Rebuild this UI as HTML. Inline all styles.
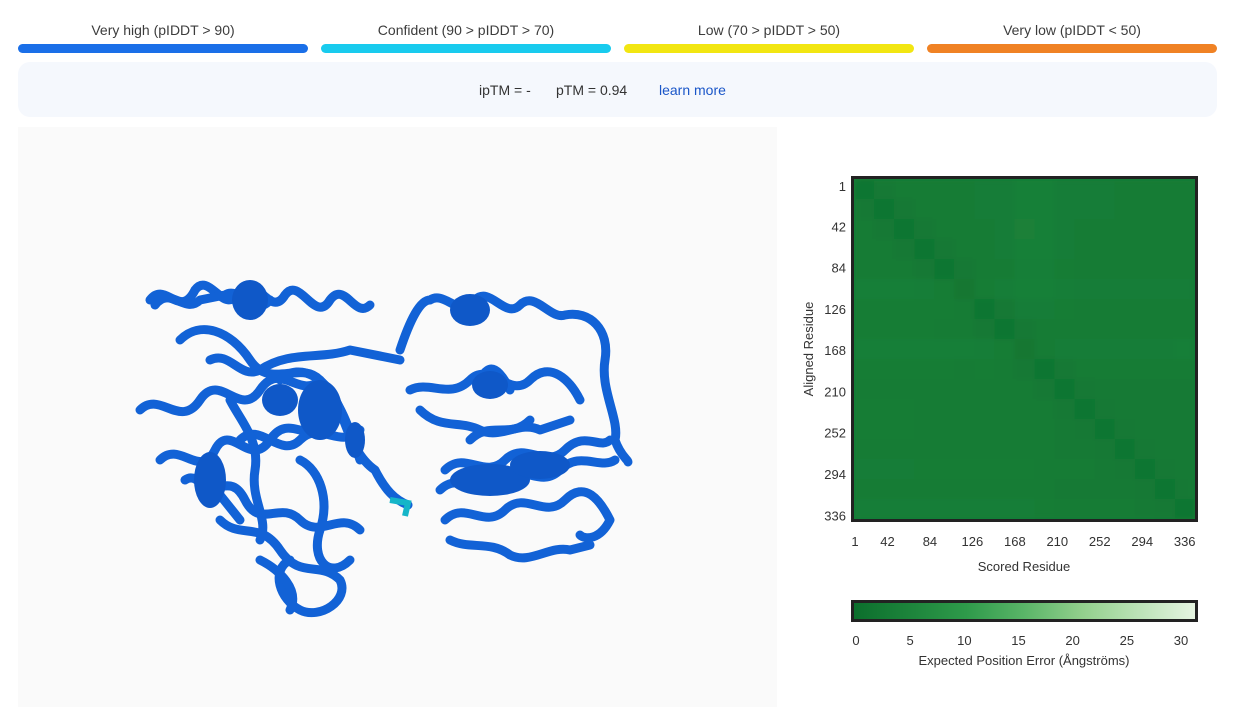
<!DOCTYPE html>
<html><head><meta charset="utf-8">
<style>
body{margin:0;width:1234px;height:707px;background:#fff;font-family:"Liberation Sans",sans-serif;overflow:hidden;position:relative;color:#333}
.lg{position:absolute;top:22px;width:290px;text-align:center;font-size:14px;color:#3c3c3c}
.bar{position:absolute;top:44px;height:9px;width:290px;border-radius:5px}
#info{position:absolute;left:18px;top:62px;width:1199px;height:55px;background:#f5f8fd;border-radius:12px;font-size:14px}
#viewer{position:absolute;left:18px;top:127px;width:759px;height:580px;background:#fafafa}
</style></head><body>
<div class="lg" style="left:18px">Very high (pIDDT &gt; 90)</div>
<div class="lg" style="left:321px">Confident (90 &gt; pIDDT &gt; 70)</div>
<div class="lg" style="left:624px">Low (70 &gt; pIDDT &gt; 50)</div>
<div class="lg" style="left:927px">Very low (pIDDT &lt; 50)</div>
<div class="bar" style="left:18px;background:#1a6fe8"></div>
<div class="bar" style="left:321px;background:#18cbee"></div>
<div class="bar" style="left:624px;background:#f2e612"></div>
<div class="bar" style="left:927px;background:#f08224"></div>
<div id="info">
 <span style="position:absolute;left:461px;top:20px">ipTM = -</span>
 <span style="position:absolute;left:538px;top:20px">pTM = 0.94</span>
 <span style="position:absolute;left:641px;top:20px;color:#1a56c8">learn more</span>
</div>
<div id="viewer">
<svg width="759" height="580">
<g fill="none" stroke="#1262d6" stroke-width="9" stroke-linejoin="round" stroke-linecap="round" transform="translate(-18,-127)">
<path d="M150 300 C165 280,180 320,195 290 C210 270,225 320,240 290 C255 270,270 320,285 295 C300 275,315 325,330 300 C345 280,355 320,370 305"/>
<path d="M155 305 C170 285,185 315,200 300 L225 295 C240 285,255 318,270 300"/>
<path d="M180 340 C200 320,230 330,250 360 C270 390,300 360,320 380 C340 400,350 430,360 460"/>
<path d="M140 410 C160 390,180 430,200 400 C220 370,240 420,260 390 C280 360,300 400,320 380"/>
<path d="M160 460 C180 440,200 480,215 450 C230 420,250 470,270 440 C290 410,310 450,330 420"/>
<path d="M200 480 C215 500,230 470,245 500 C260 530,280 500,300 520 C320 540,340 510,360 530"/>
<path d="M220 520 C240 540,260 520,280 550 C300 580,320 560,340 580 C350 600,320 620,300 610 C280 600,270 570,290 560"/>
<path d="M260 560 C280 570,300 590,290 610 M240 440 C260 420,280 460,300 440 C320 420,340 450,360 430"/>
<path d="M210 360 C230 350,240 380,260 370 C290 350,320 360,350 350 L400 360"/>
<path d="M280 380 C300 360,330 380,340 410 C350 440,360 460,375 470 C385 490,395 500,408 505"/>
<path d="M230 400 C240 420,260 440,255 470 C250 500,270 520,260 540"/>
<path d="M185 480 C200 470,205 500,220 495 L240 520"/>
<path d="M300 460 C320 470,330 500,320 530 C310 560,330 580,350 560"/>
<path d="M400 350 C410 320,420 300,430 300 C445 290,460 320,475 300 C490 285,505 320,520 305 C535 290,550 320,565 315 C590 310,610 330,605 360 C600 390,620 420,615 440 C620 455,628 460,628 462"/>
<path d="M410 390 C430 380,450 400,470 380 C490 360,510 400,530 380 C550 360,570 380,580 400"/>
<path d="M420 410 C440 430,460 420,480 430 C500 440,520 420,540 430 L570 420"/>
<path d="M445 470 C465 450,485 480,505 460 C525 440,545 470,565 450 C585 430,600 450,610 440"/>
<path d="M440 490 C460 470,480 500,500 480 C520 460,540 490,560 470 C580 450,600 470,615 460"/>
<path d="M445 520 C465 500,485 530,505 510 C525 490,545 520,565 500 C585 480,600 500,610 520 C600 540,585 540,580 535"/>
<path d="M450 540 C470 550,490 540,510 555 C530 565,550 545,570 550 L590 545"/>
<path d="M470 440 C490 420,510 440,530 420 M480 380 C490 360,500 370,510 390"/>
</g>
<g fill="#0f58c8" transform="translate(-18,-127)">
<ellipse cx="320" cy="410" rx="22" ry="30"/><ellipse cx="280" cy="400" rx="18" ry="16"/>
<ellipse cx="210" cy="480" rx="16" ry="28"/><ellipse cx="490" cy="385" rx="18" ry="14"/>
<ellipse cx="490" cy="480" rx="40" ry="16"/><ellipse cx="540" cy="465" rx="30" ry="14"/>
<ellipse cx="250" cy="300" rx="18" ry="20"/><ellipse cx="470" cy="310" rx="20" ry="16"/>
<ellipse cx="355" cy="440" rx="10" ry="18"/>
</g>
<path d="M390 500 L408 503 L405 516" stroke="#15b5c8" stroke-width="6" fill="none" transform="translate(-18,-127)"/>
</svg>
</div>

<svg width="1234" height="707" style="position:absolute;left:0;top:0">
<defs><filter id="bl" x="0" y="0" width="1" height="1"><feGaussianBlur stdDeviation="3"/></filter>
<clipPath id="hc"><rect x="854" y="179" width="341" height="340"/></clipPath></defs>
<rect x="854" y="179" width="341" height="340" fill="#137d36"/>
<g clip-path="url(#hc)"><g id="hm" filter="url(#bl)"></g></g>
<rect x="852.5" y="177.5" width="344" height="343" fill="none" stroke="#222" stroke-width="3"/>
<g id="axes" font-family="Liberation Sans, sans-serif" font-size="13" fill="#333"></g>
<text x="1024" y="571" text-anchor="middle" font-size="13" fill="#333" font-family="Liberation Sans, sans-serif">Scored Residue</text>
<text transform="translate(813,349) rotate(-90)" text-anchor="middle" font-size="13" fill="#333" font-family="Liberation Sans, sans-serif">Aligned Residue</text>
<defs><linearGradient id="cb"><stop offset="0" stop-color="#0b6e2c"/><stop offset="0.33" stop-color="#2e9a4a"/><stop offset="0.5" stop-color="#5ab568"/><stop offset="0.67" stop-color="#93d08d"/><stop offset="1" stop-color="#e6f5e2"/></linearGradient></defs>
<rect x="852.5" y="601.5" width="344" height="19" fill="url(#cb)" stroke="#222" stroke-width="3"/>
<g id="cbt" font-family="Liberation Sans, sans-serif" font-size="13" fill="#333"></g>
<text x="1024" y="665" text-anchor="middle" font-size="13" fill="#333" font-family="Liberation Sans, sans-serif">Expected Position Error (Ångströms)</text>
</svg>
<script>
const tickLabels=[1,42,84,126,168,210,252,294,336];
const cbTicks=[0,5,10,15,20,25,30];
const nRes=336;
const paeMatrix=[
[1.8,2.6,3,3,3.2,3,3.5,3.5,4,4,3.5,3.5,3.5,3,3,3,3],
[2.6,1.8,2.6,3,3.2,3,3.5,3.5,4,4,3.5,3.5,3.5,3,3,3,3],
[3,2.6,1.8,2.6,3,3,3.2,3.5,4.2,4,3.5,3.2,3.2,3,3,3,3],
[3,3,2.6,1.8,2.6,3,3.2,3.5,4,4,3.5,3.2,3.2,3,3,3,3],
[3,3,3,2.6,1.8,2.6,3,3.2,3.8,3.8,3.4,3.2,3,3,3,3,3],
[3.8,3.8,3.8,3.6,3.4,2,3.4,3.6,4.1,4.1,3.6,3.5,3.5,3.5,3.5,3.5,3.5],
[3.4,3.4,3.4,3.4,3.3,3,1.8,2.6,3.5,3.5,3.3,3.2,3.2,3.2,3.2,3.2,3.2],
[3.4,3.4,3.4,3.3,3.2,3.2,2.6,1.8,2.6,3.2,3.2,3.2,3,3,3,3,3],
[3.9,3.9,3.9,3.9,3.8,3.8,3.7,3.3,2,3.2,3.5,3.5,3.5,3.5,3.5,3.5,3.8],
[3.4,3.4,3.4,3.3,3.3,3.2,3.3,3.2,2.6,1.8,2.6,3,3,3,3,3,3],
[3.1,3.1,3.2,3,3,3,3.2,3,3,2.6,1.8,2.6,2.8,2.8,2.8,2.8,2.8],
[3.3,3.3,3.3,3.2,3.2,3.2,3.2,3.2,3.2,3,2.6,1.8,2.6,2.8,2.8,2.8,2.8],
[3.3,3.3,3.3,3.2,3.2,3.2,3.2,3.2,3.2,3,2.8,2.6,1.8,2.6,2.8,2.8,2.8],
[3.2,3.2,3.2,3.2,3.2,3.2,3.2,3.2,3.2,3,2.8,2.8,2.6,1.8,2.6,2.8,2.8],
[3.5,3.5,3.5,3.4,3.4,3.4,3.4,3.4,3.4,3.2,3,3,2.8,2.6,1.8,2.6,2.8],
[3.2,3.2,3.2,3.2,3.2,3.2,3.2,3.2,3.2,3,2.8,2.8,2.8,2.8,2.6,1.8,2.6],
[3.6,3.6,3.6,3.6,3.6,3.6,3.6,3.6,3.6,3.3,3,3,3,3,2.8,2.6,1.8]
];
const X0=854,Y0=179,W=341,H=340;
const tx=v=>845+v*1.011, ty=v=>186+(v-1)*0.983;
const stops=[[0,[11,110,44]],[10,[46,154,74]],[15,[90,181,104]],[20,[147,208,141]],[30,[230,245,226]]];
function col(v){for(let i=0;i<stops.length-1;i++){const a=stops[i],b=stops[i+1];if(v<=b[0]){const t=(v-a[0])/(b[0]-a[0]);return 'rgb('+a[1].map((c,k)=>Math.round(c+(b[1][k]-c)*t)).join(',')+')';}}return 'rgb(230,245,226)';}
const ns='http://www.w3.org/2000/svg',hm=document.getElementById('hm');
const n=paeMatrix.length,cw=W/n,ch=H/n;
paeMatrix.forEach((row,i)=>row.forEach((v,j)=>{const r=document.createElementNS(ns,'rect');
r.setAttribute('x',X0+j*cw);r.setAttribute('y',Y0+i*ch);r.setAttribute('width',cw+0.6);r.setAttribute('height',ch+0.6);r.setAttribute('fill',col(v));


hm.appendChild(r);}));
const ax=document.getElementById('axes');
tickLabels.forEach(t=>{let e=document.createElementNS(ns,'text');e.setAttribute('x',t===1?855:tx(t));e.setAttribute('y',546);e.setAttribute('text-anchor','middle');e.textContent=t;


ax.appendChild(e);
e=document.createElementNS(ns,'text');e.setAttribute('x',846);e.setAttribute('y',ty(t)+5);e.setAttribute('text-anchor','end');e.textContent=t;


ax.appendChild(e);});
const cb=document.getElementById('cbt');
cbTicks.forEach(t=>{const e=document.createElementNS(ns,'text');e.setAttribute('x',856+t/30*325);e.setAttribute('y',645);e.setAttribute('text-anchor','middle');e.textContent=t;


cb.appendChild(e);});
</script>
</body></html>
